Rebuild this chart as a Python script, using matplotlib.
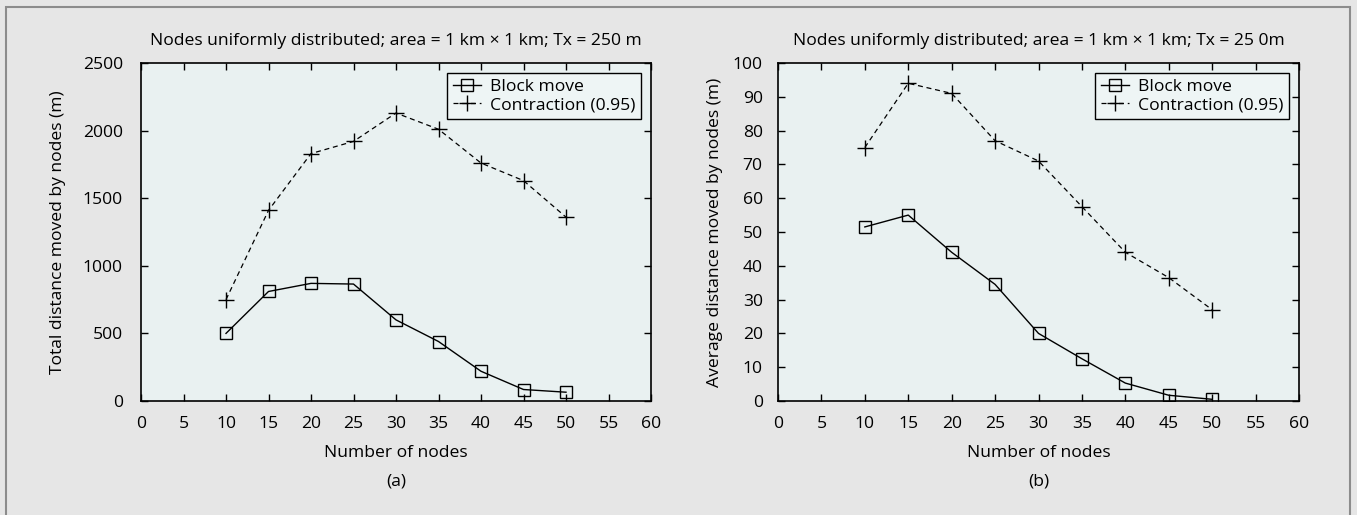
import matplotlib
matplotlib.use("Agg")
import matplotlib.pyplot as plt
from matplotlib.patches import Rectangle

# ==================== DATA ====================
nodes = [10, 15, 20, 25, 30, 35, 40, 45, 50]

total_block = [500, 810, 870, 865, 600, 440, 220, 85, 65]
total_contraction = [750, 1410, 1830, 1920, 2130, 2010, 1760, 1630, 1360]

avg_block = [51.5, 55, 44, 34.5, 20, 12.5, 5.3, 1.7, 0.5]
avg_contraction = [75, 94, 91, 77, 71, 57.5, 44, 36.5, 27]

titles = ["Nodes uniformly distributed; area = 1 km \u00d7 1 km; Tx = 250 m",
          "Nodes uniformly distributed; area = 1 km \u00d7 1 km; Tx = 25 0m"]
ylabels = ["Total distance moved by nodes (m)", "Average distance moved by nodes (m)"]
panel_tags = ["(a)", "(b)"]
xticks = list(range(0, 61, 5))

# ==================== STYLE ====================
FS = 12.6
plt.rcParams['font.family'] = ['Open Sans', 'DejaVu Sans']
plt.rcParams['font.size'] = FS

W, H = 1357, 515
fig = plt.figure(figsize=(W / 100, H / 100), dpi=100, facecolor="#e6e6e6")
fig.patches.append(Rectangle((6 / W, -0.01), (1350 - 6) / W, (H - 7) / H + 0.01,
                             transform=fig.transFigure, fill=False,
                             edgecolor="#8c8c8c", linewidth=1.5))

def px_axes(x0, x1, y0, y1):
    return fig.add_axes([x0 / W, 1 - y1 / H, (x1 - x0) / W, (y1 - y0) / H])

axes = [px_axes(141, 651, 63, 401), px_axes(778, 1299, 63, 401)]
series = [(total_block, total_contraction, (0, 2500), range(0, 2501, 500)),
          (avg_block, avg_contraction, (0, 100), range(0, 101, 10))]
ypads = [13, 11]
ylabelpads = [12, 7]

for i, ax in enumerate(axes):
    blk, con, ylim, yt = series[i]
    ax.set_facecolor("#e9f1f1")
    ax.plot(nodes, blk, color="black", linewidth=1.0, marker="s", markersize=9,
            markerfacecolor="none", markeredgewidth=1.0, label="Block move")
    ax.plot(nodes, con, color="black", linewidth=0.9, linestyle=(0, (4, 3)),
            marker="+", markersize=12, markeredgewidth=1.0, label="Contraction (0.95)")
    ax.set_xlim(0, 60)
    ax.set_ylim(*ylim)
    ax.set_xticks(xticks)
    ax.set_yticks(list(yt))
    ax.tick_params(direction="in", length=5, width=1.0, top=True, right=True)
    ax.tick_params(axis="x", pad=11)
    ax.tick_params(axis="y", pad=ypads[i])
    for s in ax.spines.values():
        s.set_linewidth(1.2)
    ax.set_title(titles[i], fontsize=FS, pad=13)
    ax.set_ylabel(ylabels[i], labelpad=ylabelpads[i])
    ax.set_xlabel("Number of nodes", labelpad=9)
    ax.text(0.5, -0.215, panel_tags[i], transform=ax.transAxes, ha="center", va="top")
    leg = ax.legend(loc="upper right", fancybox=False, edgecolor="black",
                    facecolor="#eef5f5", framealpha=1, handlelength=1.6,
                    handletextpad=0.5, borderpad=0.35, labelspacing=0.1,
                    borderaxespad=0.55)
    leg.get_frame().set_linewidth(1.0)

fig.savefig("out.png", dpi=100, facecolor=fig.get_facecolor())
